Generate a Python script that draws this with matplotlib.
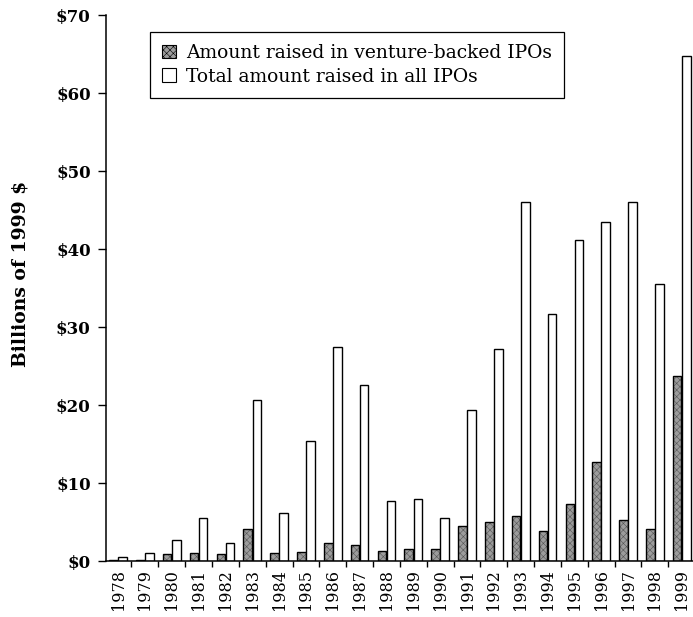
import matplotlib
matplotlib.use("Agg")
import matplotlib.pyplot as plt
from matplotlib.patches import Patch
from matplotlib.ticker import FixedLocator
import numpy as np

# data (billions of 1999 $)
years = [str(y) for y in range(1978, 2000)]
venture = [0.1, 0.1, 0.9, 1.0, 0.9, 4.1, 1.0, 1.1, 2.3, 2.0, 1.3,
           1.5, 1.6, 4.5, 5.0, 5.8, 3.9, 7.3, 12.7, 5.2, 4.1, 23.7]
total = [0.5, 1.0, 2.7, 5.5, 2.3, 20.6, 6.1, 15.4, 27.4, 22.6, 7.7,
         8.0, 5.5, 19.3, 27.2, 46.0, 31.7, 41.2, 43.5, 46.0, 35.5, 64.8]

plt.rcParams['font.family'] = ['DejaVu Serif']
plt.rcParams['hatch.linewidth'] = 0.4

fig = plt.figure(figsize=(6.93, 6.17), dpi=100)
ax = fig.add_axes([106/693, 1-561/617, 587/693, 546/617])

x = np.arange(len(years))
w = 0.32
# shaded bars: grey fill with fine hatch, then a black outline on top
ax.bar(x - 0.17, venture, w, color="#9c9c9c", edgecolor="#555555",
       hatch="xxxxx", linewidth=0)
ax.bar(x - 0.17, venture, w, fill=False, edgecolor="black", linewidth=1.0)
ax.bar(x + 0.17, total, w, color="white", edgecolor="black", linewidth=1.0)

ax.set_xlim(-0.45, 21.42)
ax.set_ylim(0, 70)
ax.spines['top'].set_visible(False)
ax.spines['right'].set_visible(False)
ax.spines['left'].set_linewidth(1.1)
ax.spines['bottom'].set_linewidth(1.1)

ax.set_yticks(range(0, 80, 10))
ax.set_yticklabels(["$%d" % v for v in range(0, 80, 10)], fontweight="bold", fontsize=12)
ax.tick_params(axis='y', direction='out', length=6, width=1, pad=5)

ax.set_xticks(x)
ax.set_xticklabels(years, rotation=90, fontsize=11.5)
ax.tick_params(axis='x', which='major', length=0, pad=6)
ax.xaxis.set_minor_locator(FixedLocator(x[:-1] + 0.5))
ax.tick_params(axis='x', which='minor', direction='out', length=4, width=1)

ax.set_ylabel("Billions of 1999 $", fontweight="bold", fontsize=13.5)
ax.yaxis.set_label_coords(-0.13, 0.525)

handles = [Patch(facecolor="#9c9c9c", edgecolor="black", hatch="xxxxx", linewidth=0.8),
           Patch(facecolor="white", edgecolor="black", linewidth=0.8)]
leg = ax.legend(handles, ["Amount raised in venture-backed IPOs",
                          "Total amount raised in all IPOs"],
                loc="upper left", bbox_to_anchor=(0.075, 0.969),
                borderaxespad=0, fancybox=False, framealpha=1,
                edgecolor="black", fontsize=13.5, handlelength=0.75,
                handleheight=0.75, handletextpad=0.5, labelspacing=0.3,
                borderpad=0.65)
leg.get_frame().set_linewidth(0.9)

fig.savefig("out.png", dpi=100)
